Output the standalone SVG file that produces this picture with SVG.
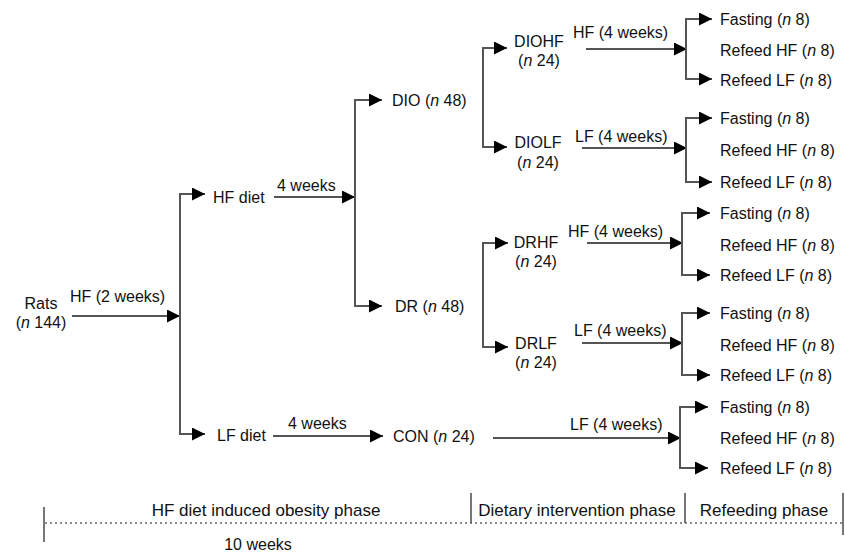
<svg xmlns="http://www.w3.org/2000/svg" width="845" height="552" viewBox="0 0 845 552">
<style>
text{font-family:"Liberation Sans",Arial,sans-serif;font-size:16px;fill:#111}
.c{text-anchor:middle}
.ph{font-size:17px}
.ln{fill:none;stroke:#555;stroke-width:2}
.ar{marker-end:url(#ah)}
.br{marker-start:url(#ah);marker-end:url(#ah)}
.tk{stroke:#555;stroke-width:1.6}
.dot{stroke:#666;stroke-width:1.5;stroke-dasharray:2 3}
</style>
<defs>
<marker id="ah" markerUnits="userSpaceOnUse" markerWidth="14" markerHeight="13" refX="13" refY="6.5" orient="auto-start-reverse">
<path d="M0,0 L13,6.5 L0,13 z" fill="#000"/>
</marker>
</defs>
<rect width="845" height="552" fill="#fff"/>
<g id="connectors">
<path class="ln ar" d="M72,316 H180"/>
<path class="ln br" d="M205,194 H180 V434 H205"/>
<path class="ln ar" d="M274,197 H355"/>
<path class="ln br" d="M382,100 H355 V306 H382"/>
<path class="ln ar" d="M273,436 H383"/>
<path class="ln br" d="M507,48 H483 V147 H507"/>
<path class="ln br" d="M508,243 H483 V347 H508"/>
<path class="ln ar" d="M586,49 H687"/>
<path class="ln br" d="M712,19 H686 V79 H712"/>
<path class="ln ar" d="M582,148 H687"/>
<path class="ln br" d="M712,118 H686 V182 H712"/>
<path class="ln ar" d="M587,243 H683"/>
<path class="ln br" d="M710,213 H682 V275 H710"/>
<path class="ln ar" d="M582,343 H683"/>
<path class="ln br" d="M710,313 H682 V375 H710"/>
<path class="ln ar" d="M493,438 H681"/>
<path class="ln br" d="M708,407 H680 V468 H708"/>
</g>
<g id="rats"><text x="41" y="309" class="c">Rats</text><text x="41" y="328" class="c">(<tspan font-style="italic">n</tspan> 144)</text></g>
<g id="lbl-hf2"><text x="70" y="302">HF (2 weeks)</text></g>
<g id="hfdiet"><text x="213" y="203">HF diet</text></g>
<g id="lbl-4w-a"><text x="277" y="191">4 weeks</text></g>
<g id="dio"><text x="392" y="106">DIO (<tspan font-style="italic">n</tspan> 48)</text></g>
<g id="dr"><text x="395" y="312">DR (<tspan font-style="italic">n</tspan> 48)</text></g>
<g id="lfdiet"><text x="217" y="441">LF diet</text></g>
<g id="lbl-4w-b"><text x="288" y="429">4 weeks</text></g>
<g id="con"><text x="393" y="442">CON (<tspan font-style="italic">n</tspan> 24)</text></g>
<g id="diohf"><text x="539" y="47" class="c">DIOHF</text><text x="539" y="66" class="c">(<tspan font-style="italic">n</tspan> 24)</text></g>
<g id="diolf"><text x="538" y="148" class="c">DIOLF</text><text x="538" y="168" class="c">(<tspan font-style="italic">n</tspan> 24)</text></g>
<g id="drhf"><text x="536" y="248" class="c">DRHF</text><text x="536" y="267" class="c">(<tspan font-style="italic">n</tspan> 24)</text></g>
<g id="drlf"><text x="536" y="349" class="c">DRLF</text><text x="536" y="368" class="c">(<tspan font-style="italic">n</tspan> 24)</text></g>
<g id="lbl-interv">
<text x="573" y="38">HF (4 weeks)</text>
<text x="575" y="142">LF (4 weeks)</text>
<text x="568" y="237">HF (4 weeks)</text>
<text x="574" y="336">LF (4 weeks)</text>
<text x="570" y="430">LF (4 weeks)</text>
</g>
<g id="g1"><text x="720" y="25">Fasting (<tspan font-style="italic">n</tspan> 8)</text><text x="720" y="56">Refeed HF (<tspan font-style="italic">n</tspan> 8)</text><text x="720" y="86">Refeed LF (<tspan font-style="italic">n</tspan> 8)</text></g>
<g id="g2"><text x="720" y="124">Fasting (<tspan font-style="italic">n</tspan> 8)</text><text x="720" y="156">Refeed HF (<tspan font-style="italic">n</tspan> 8)</text><text x="720" y="188">Refeed LF (<tspan font-style="italic">n</tspan> 8)</text></g>
<g id="g3"><text x="720" y="219">Fasting (<tspan font-style="italic">n</tspan> 8)</text><text x="720" y="251">Refeed HF (<tspan font-style="italic">n</tspan> 8)</text><text x="720" y="281">Refeed LF (<tspan font-style="italic">n</tspan> 8)</text></g>
<g id="g4"><text x="720" y="319">Fasting (<tspan font-style="italic">n</tspan> 8)</text><text x="720" y="351">Refeed HF (<tspan font-style="italic">n</tspan> 8)</text><text x="720" y="381">Refeed LF (<tspan font-style="italic">n</tspan> 8)</text></g>
<g id="g5"><text x="720" y="413">Fasting (<tspan font-style="italic">n</tspan> 8)</text><text x="720" y="444">Refeed HF (<tspan font-style="italic">n</tspan> 8)</text><text x="720" y="474">Refeed LF (<tspan font-style="italic">n</tspan> 8)</text></g>
<g id="timeline">
<line class="dot" x1="45" y1="523" x2="843" y2="523"/>
<line class="tk" x1="44" y1="507" x2="44" y2="542"/>
<line class="tk" x1="471" y1="493" x2="471" y2="523"/>
<line class="tk" x1="685" y1="493" x2="685" y2="523"/>
<line class="tk" x1="843" y1="493" x2="843" y2="535"/>
<text x="266" y="516" class="c ph">HF diet induced obesity phase</text>
<text x="577" y="516" class="c ph">Dietary intervention phase</text>
<text x="764" y="516" class="c ph">Refeeding phase</text>
<text x="258" y="550" class="c">10 weeks</text>
</g>
</svg>
